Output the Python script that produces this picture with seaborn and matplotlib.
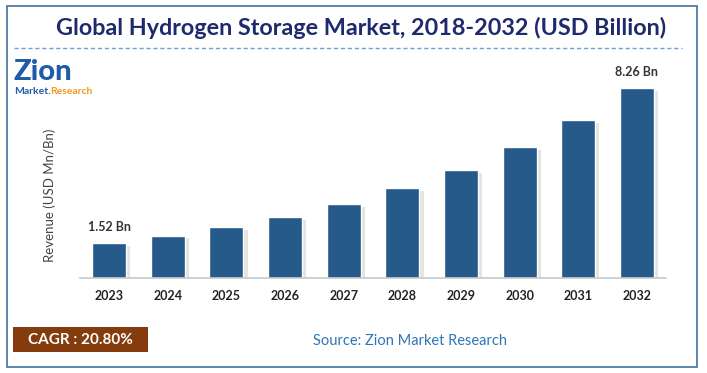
import matplotlib
matplotlib.use("Agg")
import matplotlib.pyplot as plt
import matplotlib.patheffects as pe
from matplotlib.patches import Rectangle
import seaborn as sns
import pandas as pd

years = ["2023", "2024", "2025", "2026", "2027", "2028", "2029", "2030", "2031", "2032"]
revenue = [1.52, 1.84, 2.20, 2.66, 3.20, 3.90, 4.70, 5.70, 6.87, 8.26]
labels = {"2023": "1.52 Bn", "2032": "8.26 Bn"}

title = "Global Hydrogen Storage Market, 2018-2032 (USD Billion)"
ylabel = "Revenue (USD Mn/Bn)"
cagr = "CAGR : 20.80%"
source = "Source: Zion Market Research"

df = pd.DataFrame({"year": years, "revenue": revenue})

sns.set_theme(style="white")
plt.rcParams["font.family"] = ["Lato", "DejaVu Sans"]

W, H = 707, 373
fig = plt.figure(figsize=(W / 100, H / 100), dpi=100)
fig.patch.set_facecolor("white")

ax = fig.add_axes([79.7 / W, 95 / H, 586.6 / W, 218 / H])
sns.barplot(data=df, x="year", y="revenue", color="#255a8a", width=0.58,
            saturation=1, ax=ax)
for p in ax.patches:
    p.set_path_effects([pe.SimplePatchShadow(offset=(3, -2), shadow_rgbFace="#888888", alpha=0.22),
                        pe.Normal()])
ax.set_ylim(0, 9.48)
ax.set_xlim(-0.5, 9.5)
ax.set_yticks([])
ax.set_xlabel("")
ax.set_ylabel(ylabel, fontsize=9.5, color="#444444")
ax.yaxis.set_label_coords(-0.040, 0.38)
for s in ["top", "right", "left"]:
    ax.spines[s].set_visible(False)
ax.spines["bottom"].set_color("#c8c8c8")
ax.spines["bottom"].set_linewidth(1.2)
ax.tick_params(axis="x", length=0, pad=9)
for t in ax.get_xticklabels():
    t.set_fontweight("bold")
    t.set_fontsize(9)
    t.set_color("#222222")

for i, y in enumerate(years):
    if y in labels:
        ax.annotate(labels[y], (i, revenue[i]), xytext=(0, 7), textcoords="offset points",
                    ha="center", va="bottom", fontsize=9, fontweight="bold", color="#333333")

# border
fig.add_artist(Rectangle((7 / W, 6 / H), 690 / W, 361 / H, transform=fig.transFigure,
                         fill=False, edgecolor="#41719c", linewidth=1.2))
# title
fig.text(361 / W, 1 - 28 / H, title, ha="center", va="center", fontsize=16.8,
         fontweight="bold", color="#1f2a6e")
fig.add_artist(plt.Line2D([14 / W, 682 / W], [1 - 48 / H, 1 - 48 / H], transform=fig.transFigure,
                          color="#6f9fd8", linestyle=(0, (3, 2)), linewidth=1))
# logo
fig.text(14 / W, 1 - 72 / H, "Zion", ha="left", va="center", fontsize=21,
         fontweight="black", color="#1e5ba8")
fig.text(14 / W, 1 - 91 / H, "Market.", ha="left", va="center", fontsize=7.5,
         fontweight="bold", color="#1e5ba8")
fig.text(50 / W, 1 - 91 / H, "Research", ha="left", va="center", fontsize=7.5,
         fontweight="bold", color="#f39a1e")

# CAGR box
fig.add_artist(Rectangle((13 / W, 1 - 352 / H), 135 / W, 25 / H, transform=fig.transFigure,
                         facecolor="#843c0c", edgecolor="none"))
fig.text(80 / W, 1 - 339.5 / H, cagr, ha="center", va="center", fontsize=11,
         fontweight="bold", color="white")
fig.text(410 / W, 1 - 341 / H, source, ha="center", va="center", fontsize=10.5,
         color="#2e75b6")

fig.savefig("out.png", dpi=100)
